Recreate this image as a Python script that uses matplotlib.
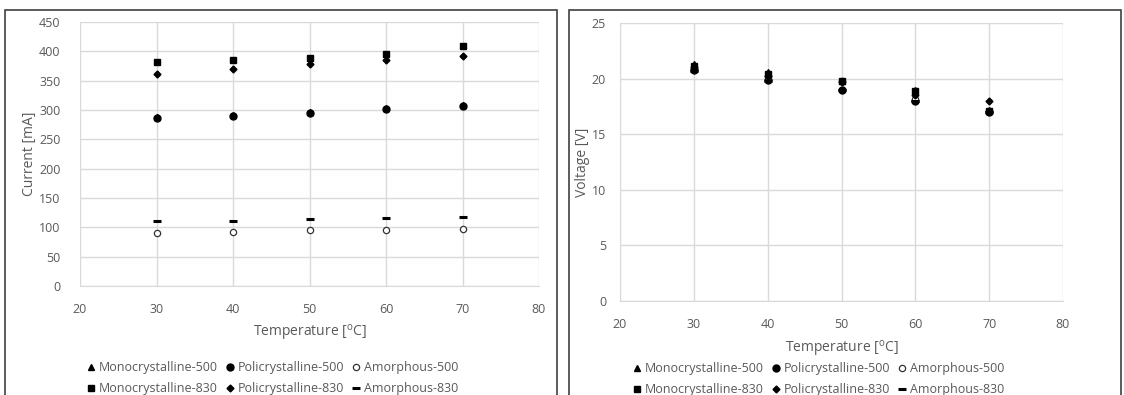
import matplotlib.pyplot as plt
from matplotlib.patches import Rectangle

plt.rcParams['font.family'] = ['Open Sans', 'DejaVu Sans']

temps = [30, 40, 50, 60, 70]

# current [mA]
cur_mono500 = [288, 291, 297, 303, 309]
cur_poly500 = [286, 290, 295, 301, 307]
cur_amor500 = [91, 92, 95, 96, 98]
cur_mono830 = [382, 385, 389, 395, 409]
cur_poly830 = [362, 370, 378, 385, 392]
cur_amor830 = [110, 111, 114, 116, 117]

# voltage [V]
vol_mono500 = [21.3, 20.6, 19.8, 19.0, 17.2]
vol_poly500 = [20.8, 19.9, 19.0, 18.0, 17.0]
vol_amor500 = [20.9, 20.2, 19.8, 18.2, 17.1]
vol_mono830 = [21.1, 20.4, 19.8, 18.9, 17.1]
vol_poly830 = [21.0, 20.2, 19.7, 18.5, 18.0]
vol_amor830 = [20.7, 19.8, 19.0, 18.0, 17.0]

names = ['Monocrystalline-500', 'Policrystalline-500', 'Amorphous-500',
         'Monocrystalline-830', 'Policrystalline-830', 'Amorphous-830']

gray = '#595959'
W, H = 1124, 395
fig = plt.figure(figsize=(W / 100, H / 100), dpi=100)

# outer chart borders
for x0, x1 in [(5, 557), (569, 1121)]:
    fig.patches.append(Rectangle((x0 / W, -0.05), (x1 - x0) / W, 1.05 - 10 / H,
                                 transform=fig.transFigure, fill=False,
                                 edgecolor='#404040', lw=1.2))


def panel(rect, series, ylim, ystep, ylabel, ylab_x, ypad, legend_x, legend_y, xlabel_pad):
    ax = fig.add_axes(rect)
    styles = [
        dict(marker='^', color='black', ms=4.5, ls='none'),
        dict(marker='o', color='black', ms=5, ls='none'),
        dict(marker='o', mfc='white', mec='#333333', ms=4.5, mew=0.9, ls='none'),
        dict(marker='s', color='black', ms=5, ls='none'),
        dict(marker='D', color='black', ms=3.5, ls='none'),
        dict(marker='_', color='black', ms=5.5, mew=2.2, ls='none'),
    ]
    handles = []
    for ys, st, nm in zip(series, styles, names):
        h, = ax.plot(temps, ys, label=nm, **st)
        handles.append(h)
    ax.set_xlim(20, 80)
    ax.set_ylim(*ylim)
    ax.set_xticks(range(20, 81, 10))
    ax.set_yticks(range(ylim[0], ylim[1] + 1, ystep))
    ax.grid(True, color='#d9d9d9', lw=1)
    ax.set_axisbelow(True)
    for s in ['top', 'right', 'left']:
        ax.spines[s].set_visible(False)
    ax.spines['bottom'].set_color('#d9d9d9')
    ax.tick_params(length=0, labelsize=9, colors=gray)
    ax.tick_params(axis='y', pad=ypad)
    ax.tick_params(axis='x', pad=12)
    ax.set_xlabel('Temperature [$\\mathregular{^{o}}$C]', fontsize=10,
                  color=gray, labelpad=xlabel_pad)
    ax.set_ylabel(ylabel, fontsize=10, color=gray)
    ax.yaxis.set_label_coords((ylab_x - rect[0] * W) / (rect[2] * W), 0.5)
    order = [0, 3, 1, 4, 2, 5]
    fig.legend([handles[i] for i in order], [names[i] for i in order],
               loc='upper left', bbox_to_anchor=(legend_x / W, legend_y),
               ncol=3, frameon=False, fontsize=9, labelcolor=gray,
               handlelength=0.7, handletextpad=0.3, columnspacing=0.6,
               labelspacing=0.65, borderpad=0)
    return ax


panel([80 / W, 1 - 286 / H, 459 / W, 264 / H],
      [cur_mono500, cur_poly500, cur_amor500, cur_mono830, cur_poly830, cur_amor830],
      (0, 450), 50, 'Current [mA]', 37, 14, 80, 1 - 355 / H, 5)
panel([620 / W, 1 - 301 / H, 443 / W, 278 / H],
      [vol_mono500, vol_poly500, vol_amor500, vol_mono830, vol_poly830, vol_amor830],
      (0, 25), 5, 'Voltage [V]', 590, 10, 626, 1 - 356 / H, 6)

fig.savefig('out.png', dpi=100)
